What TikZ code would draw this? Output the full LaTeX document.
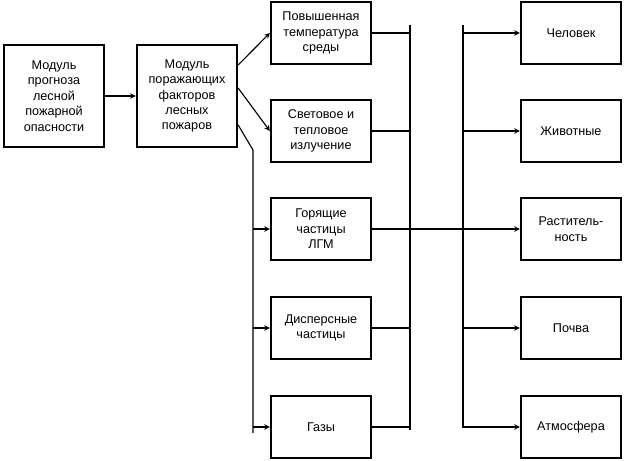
\documentclass[tikz,border=0pt]{standalone}
\usepackage{fontspec}
\setmainfont{Liberation Sans}
\begin{document}
\begin{tikzpicture}[x=0.025cm, y=-0.025cm,
    every node/.style={draw, line width=1.6pt, align=center, font=\fontsize{9}{11}\selectfont, inner sep=1pt},
    block/.style={minimum width=2.5cm, minimum height=1.55cm},
    big/.style={minimum width=2.5cm, minimum height=2.55cm},
    arr/.style={->, >=stealth, line width=0.8pt},
    ln/.style={line width=0.8pt}]
  \useasboundingbox (0,0) rectangle (624,460);
  \node[big] (prog) at (54,96) {Модуль\\прогноза\\лесной\\пожарной\\опасности};
  \node[big] (fact) at (187,96) {Модуль\\поражающих\\факторов\\лесных\\пожаров};
  \node[block] (temp) at (321,33) {Повышенная\\температура\\среды};
  \node[block] (svet) at (321,131) {Световое и\\тепловое\\излучение};
  \node[block] (gor) at (321,229) {Горящие\\частицы\\ЛГМ};
  \node[block] (disp) at (321,328) {Дисперсные\\частицы};
  \node[block] (gaz) at (321,427) {Газы};
  \node[block] (chel) at (571,33) {Человек};
  \node[block] (zhiv) at (571,131) {Животные};
  \node[block] (rast) at (571,229) {Раститель-\\ность};
  \node[block] (poch) at (571,328) {Почва};
  \node[block] (atm) at (571,427) {Атмосфера};
  % bus lines
  \coordinate (b1t) at (410,25);
  \coordinate (b1b) at (410,430);
  \coordinate (b2t) at (463,25);
  \coordinate (b2b) at (463,428);
  \coordinate (kink) at (253,150);
  \coordinate (down) at (253,433);
  \draw[ln] (b1t) -- (b1b);
  \draw[ln] (b2t) -- (b2b);
  \draw[arr] (prog) -- (fact);
  \draw[arr] (fact.east |- 0,65) -- (temp.west);
  \draw[arr] (fact.east |- 0,88) -- (svet.west);
  \draw[ln] (fact.east |- 0,125) -- (kink) -- (down);
  \foreach \b in {gor, disp, gaz}
    \draw[arr] (kink |- \b.west) -- (\b.west);
  \foreach \b in {temp, svet, gor, disp, gaz}
    \draw[ln] (\b.east) -- (b1t |- \b.east);
  \draw[ln] (b1t |- gor.east) -- (b2t |- gor.east);
  \foreach \b in {chel, zhiv, rast, poch, atm}
    \draw[arr] (b2t |- \b.west) -- (\b.west);
\end{tikzpicture}
\end{document}
